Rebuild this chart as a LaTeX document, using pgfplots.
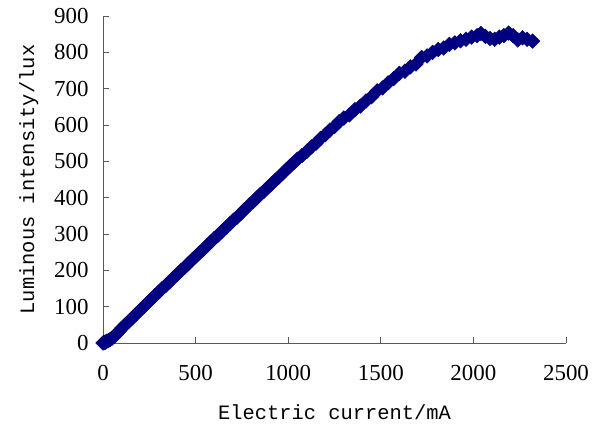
\documentclass[border=0pt]{standalone}
\usepackage{pgfplots}
\pgfplotsset{compat=1.18}
\usepackage{fontspec}
\setmainfont{Liberation Serif}
\newfontfamily\monofont{Liberation Mono}
\definecolor{axgray}{rgb}{0.35,0.35,0.35}
\definecolor{navy}{rgb}{0,0,0.5}
\begin{document}
\begin{tikzpicture}[x=1bp,y=1bp]
\useasboundingbox (0,0) rectangle (594,423);
\begin{axis}[
  at={(103bp,80bp)}, anchor=origin,
  width=463bp, height=327bp, scale only axis,
  xmin=0, xmax=2500, ymin=0, ymax=900,
  xtick={0,500,...,2500}, ytick={0,100,...,900},
  axis x line*=bottom, axis y line*=left,
  axis line style={axgray, line width=1bp},
  tick style={axgray, line width=1bp},
  tick align=inside, major tick length=6bp,
  /pgf/number format/assume math mode=true,
  /pgf/number format/1000 sep={},
  ticklabel style={font=\fontsize{23}{23}\selectfont},
  xticklabel style={yshift=-19bp},
  yticklabel style={xshift=-11bp},
  label style={font=\monofont\fontsize{20.5}{20.5}\selectfont},
  xlabel={Electric current/mA},
  ylabel={Luminous intensity/lux},
  xlabel style={at={(axis description cs:0.5,-0.2324)}, anchor=base},
  ylabel style={at={(axis description cs:-0.149,0.5)}, anchor=base},
  clip=false,
]
\addplot[only marks, mark=square*, mark size=5.2bp,
  mark options={rotate=45, fill=navy, draw=navy}] coordinates {
(0,0) (5,1) (10,2) (15,3) (20,5) (30,7) (40,10) (50,14) (60,18) (70,23)
(80,29) (90,34) (100,40) (120,50) (140,60) (160,70) (180,80) (200,90)
(220,100) (240,110) (260,120) (280,130) (300,140) (320,150) (340,159)
(360,169) (380,179) (400,189) (420,199) (440,208) (460,218) (480,228)
(500,238) (520,248) (540,257) (560,267) (580,277) (600,287) (620,296)
(640,306) (665,318) (685,328) (705,338) (725,347) (745,357) (765,367)
(790,380) (810,389) (830,399) (850,409) (870,418) (890,428) (910,438)
(930,448) (950,457) (970,467) (990,477) (1010,487) (1030,496) (1050,506)
(1075,516) (1100,527) (1125,540) (1150,550) (1175,563) (1200,573)
(1225,586) (1250,596) (1275,609) (1300,619) (1330,628) (1360,642)
(1390,652) (1420,666) (1450,678) (1480,694) (1510,702) (1540,716)
(1570,728) (1600,742) (1630,748) (1660,760) (1690,768) (1720,786)
(1750,790) (1780,800) (1810,808) (1840,812) (1870,822) (1900,826)
(1930,832) (1960,836) (1990,842) (2020,846) (2040,852) (2065,844)
(2090,838) (2115,836) (2140,842) (2165,846) (2190,853) (2215,846)
(2240,834) (2265,840) (2290,836) (2320,831)
};
\end{axis}
\end{tikzpicture}
\end{document}
